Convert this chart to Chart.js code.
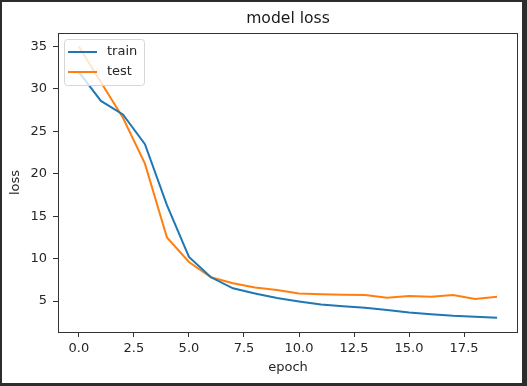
<!DOCTYPE html>
<html>
<head>
<meta charset="utf-8">
<script src="https://cdn.jsdelivr.net/npm/chart.js@4/dist/chart.umd.min.js"></script>
<style>
  html, body { margin: 0; padding: 0; background: #fff; }
  #frame {
    position: absolute; left: 0; top: 0;
    width: 527px; height: 386px;
    box-sizing: border-box;
    border-style: solid;
    border-color: #2d2d2d;
    border-width: 2px 5px 3px 2px;
    background: #fff;
  }
  #wrap { position: relative; width: 520px; height: 381px; }
</style>
</head>
<body>
<div id="frame"><div id="wrap"><canvas id="lossChart"></canvas></div></div>
<script>
// loss per epoch
const epochs = [0, 1, 2, 3, 4, 5, 6, 7, 8, 9, 10, 11, 12, 13, 14, 15, 16, 17, 18, 19];
const trainLoss = [32.0, 28.6, 27.0, 23.5, 16.3, 10.2, 7.8, 6.5, 5.9, 5.35, 4.95, 4.6, 4.4, 4.2, 3.95, 3.65, 3.45, 3.27, 3.15, 3.03];
const testLoss = [35.0, 30.8, 26.6, 21.2, 12.5, 9.6, 7.8, 7.1, 6.6, 6.3, 5.9, 5.8, 5.75, 5.7, 5.4, 5.6, 5.5, 5.7, 5.25, 5.5];
const seriesNames = ["train", "test"];
const xTickStep = 2.5;
const yTickStep = 5;

Chart.defaults.font.family = "'DejaVu Sans', sans-serif";
Chart.defaults.color = "#262626";

const toPoints = (xs, ys) => xs.map((x, i) => ({ x: x, y: ys[i] }));

// box around the whole plot area, like a matplotlib axes frame
const axesFrame = {
  id: "axesFrame",
  afterDraw(chart) {
    const { ctx, chartArea: a } = chart;
    ctx.save();
    ctx.strokeStyle = "#333";
    ctx.lineWidth = 1;
    ctx.strokeRect(Math.round(a.left) + 0.5, Math.round(a.top) + 0.5,
      Math.round(a.right - a.left) - 1, Math.round(a.bottom - a.top));
    ctx.restore();
  }
};

// legend box in the upper left corner of the plot
const cornerLegend = {
  id: "cornerLegend",
  afterDatasetsDraw(chart) {
    const { ctx, chartArea: a } = chart;
    const x = a.left + 6, y = a.top + 6, w = 80, h = 46, r = 3;
    ctx.save();
    ctx.beginPath();
    ctx.roundRect(x + 0.5, y + 0.5, w, h, r);
    ctx.fillStyle = "rgba(255,255,255,0.8)";
    ctx.fill();
    ctx.strokeStyle = "#d6d6d6";
    ctx.lineWidth = 1;
    ctx.stroke();
    ctx.font = "13px 'DejaVu Sans'";
    ctx.textBaseline = "middle";
    chart.data.datasets.forEach((ds, i) => {
      const ly = a.top + 19 + i * 20;
      ctx.beginPath();
      ctx.moveTo(a.left + 10, ly);
      ctx.lineTo(a.left + 39, ly);
      ctx.strokeStyle = ds.borderColor;
      ctx.lineWidth = 2;
      ctx.stroke();
      ctx.fillStyle = "#262626";
      ctx.fillText(ds.label, a.left + 49, ly);
    });
    ctx.restore();
  }
};

new Chart(document.getElementById("lossChart"), {
  type: "line",
  data: {
    datasets: [
      {
        label: seriesNames[0],
        data: toPoints(epochs, trainLoss),
        borderColor: "#1f77b4",
        backgroundColor: "#1f77b4",
        borderWidth: 2,
        pointRadius: 0,
        tension: 0
      },
      {
        label: seriesNames[1],
        data: toPoints(epochs, testLoss),
        borderColor: "#ff7f0e",
        backgroundColor: "#ff7f0e",
        borderWidth: 2,
        pointRadius: 0,
        tension: 0
      }
    ]
  },
  plugins: [axesFrame, cornerLegend],
  options: {
    responsive: true,
    maintainAspectRatio: false,
    animation: false,
    layout: { padding: { left: 0, right: 4, top: 0, bottom: 0 } },
    plugins: {
      legend: { display: false },
      tooltip: { enabled: false },
      title: {
        display: true,
        text: "model loss",
        fullSize: false,
        color: "#1a1a1a",
        font: { size: 15.6, weight: "normal" },
        padding: { top: 7.9, bottom: 4.4 }
      }
    },
    scales: {
      x: {
        type: "linear",
        min: -0.95,
        max: 19.95,
        afterFit: (scale) => { scale.height = 51; },
        grid: { drawOnChartArea: false, drawTicks: true, tickLength: 5, tickColor: "#333" },
        border: { display: false },
        ticks: {
          stepSize: xTickStep,
          includeBounds: false,
          padding: 3.5,
          maxRotation: 0,
          autoSkip: false,
          font: { size: 13 },
          callback: (v) => v.toFixed(1)
        },
        title: {
          display: true,
          text: "epoch",
          font: { size: 13 },
          padding: { top: 0, bottom: 7.5 }
        }
      },
      y: {
        min: 1.35,
        max: 36.6,
        afterFit: (scale) => { scale.width = 56; },
        grid: { drawOnChartArea: false, drawTicks: true, tickLength: 5, tickColor: "#333" },
        border: { display: false },
        ticks: {
          stepSize: yTickStep,
          includeBounds: false,
          padding: 6,
          autoSkip: false,
          font: { size: 13 },
          callback: (v) => String(v)
        },
        title: {
          display: true,
          text: "loss",
          font: { size: 13 },
          padding: { top: 6.2, bottom: 0 }
        }
      }
    }
  }
});
</script>
</body>
</html>
